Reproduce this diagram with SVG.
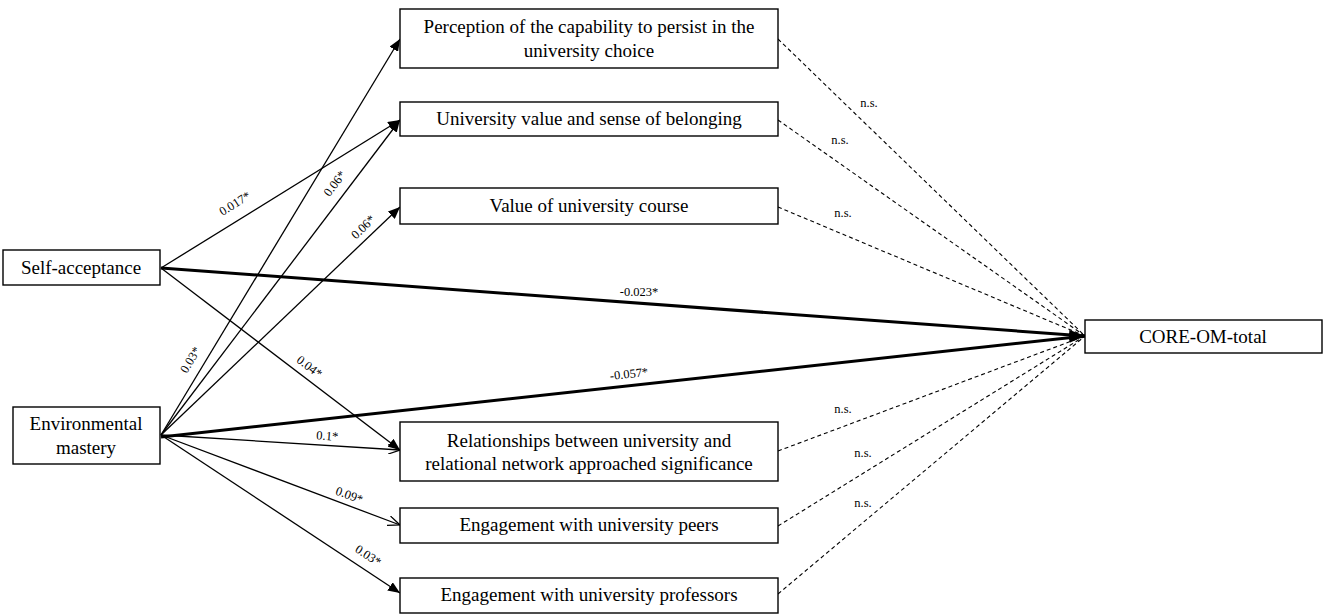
<svg xmlns="http://www.w3.org/2000/svg" width="1325" height="616" viewBox="0 0 1325 616">
<style>
.box{fill:#fff;stroke:#000;stroke-width:1.4}
.t{font-family:"Liberation Serif",serif;font-size:19px;text-anchor:middle;fill:#000}
.l{font-family:"Liberation Serif",serif;font-size:12.5px;text-anchor:middle;fill:#000}
.e{stroke:#000;stroke-width:1.3;fill:none}
.th{stroke:#000;stroke-width:3;fill:none}
.d{stroke:#000;stroke-width:1.1;stroke-dasharray:4,3;fill:none}
</style>
<defs>
<marker id="a" markerWidth="12" markerHeight="10" refX="12" refY="5" orient="auto" markerUnits="userSpaceOnUse"><path d="M0,0 L12,5 L0,10 Z"/></marker>
<marker id="o" markerWidth="12" markerHeight="10" refX="12" refY="5" orient="auto" markerUnits="userSpaceOnUse"><path d="M0,0 L12,5 L0,10" fill="none" stroke="#000" stroke-width="1.3"/></marker>
<marker id="b" markerWidth="16" markerHeight="10" refX="16" refY="5" orient="auto" markerUnits="userSpaceOnUse"><path d="M0,0 L16,5 L0,10 Z"/></marker>
</defs>
<rect width="1325" height="616" fill="#fff"/>
<g id="connectors">
<line class="e" x1="161" y1="268" x2="400" y2="120" marker-end="url(#a)"/>
<line class="e" x1="161" y1="435" x2="400" y2="39" marker-end="url(#a)"/>
<line class="e" x1="161" y1="435" x2="400" y2="120" marker-end="url(#a)"/>
<line class="e" x1="161" y1="435" x2="400" y2="207" marker-end="url(#a)"/>
<line class="e" x1="161" y1="268" x2="400" y2="450" marker-end="url(#a)"/>
<line class="e" x1="161" y1="435" x2="400" y2="450" marker-end="url(#o)"/>
<line class="e" x1="161" y1="435" x2="400" y2="525" marker-end="url(#o)"/>
<line class="e" x1="161" y1="435" x2="400" y2="593" marker-end="url(#a)"/>
<line class="th" x1="161" y1="268" x2="1085" y2="336" marker-end="url(#b)"/>
<line class="th" x1="161" y1="437" x2="1085" y2="336" marker-end="url(#b)"/>
<line class="d" x1="778" y1="39" x2="1085" y2="336"/>
<line class="d" x1="778" y1="120" x2="1085" y2="336"/>
<line class="d" x1="778" y1="207" x2="1085" y2="336"/>
<line class="d" x1="778" y1="451" x2="1085" y2="336"/>
<line class="d" x1="778" y1="526" x2="1085" y2="336"/>
<line class="d" x1="778" y1="594" x2="1085" y2="336"/>
<text class="l" transform="translate(237,207) rotate(-32)">0.017*</text>
<text class="l" transform="translate(194,362) rotate(-59)">0.03*</text>
<text class="l" transform="translate(338,186) rotate(-53)">0.06*</text>
<text class="l" transform="translate(366,230) rotate(-44)">0.06*</text>
<text class="l" transform="translate(307,370) rotate(37)">0.04*</text>
<text class="l" transform="translate(327,440) rotate(4)">0.1*</text>
<text class="l" transform="translate(348,499) rotate(20)">0.09*</text>
<text class="l" transform="translate(366,559) rotate(33)">0.03*</text>
<text class="l" x="639" y="296">-0.023*</text>
<text class="l" x="629" y="378" transform="rotate(-6 629 374)">-0.057*</text>
<text class="l" x="869" y="107">n.s.</text>
<text class="l" x="840" y="144">n.s.</text>
<text class="l" x="843" y="217">n.s.</text>
<text class="l" x="843" y="413">n.s.</text>
<text class="l" x="863" y="457">n.s.</text>
<text class="l" x="863" y="507">n.s.</text>
</g>
<g id="sa"><rect class="box" x="3" y="250" width="157" height="35"/><text class="t" x="81" y="274">Self-acceptance</text></g>
<g id="em"><rect class="box" x="13" y="407" width="147" height="57"/><text class="t" x="86" y="430">Environmental</text><text class="t" x="86" y="454">mastery</text></g>
<g id="n1"><rect class="box" x="400" y="9" width="378" height="59"/><text class="t" x="589" y="33">Perception of the capability to persist in the</text><text class="t" x="589" y="57">university choice</text></g>
<g id="n2"><rect class="box" x="400" y="102" width="378" height="34"/><text class="t" x="589" y="125">University value and sense of belonging</text></g>
<g id="n3"><rect class="box" x="400" y="188" width="378" height="36"/><text class="t" x="589" y="212">Value of university course</text></g>
<g id="n4"><rect class="box" x="400" y="422" width="378" height="59"/><text class="t" x="589" y="447">Relationships between university and</text><text class="t" x="589" y="470">relational network approached significance</text></g>
<g id="n5"><rect class="box" x="400" y="508" width="378" height="35"/><text class="t" x="589" y="531">Engagement with university peers</text></g>
<g id="n6"><rect class="box" x="400" y="578" width="378" height="35"/><text class="t" x="589" y="601">Engagement with university professors</text></g>
<g id="core"><rect class="box" x="1085" y="320" width="237" height="33"/><text class="t" x="1203" y="343">CORE-OM-total</text></g>
</svg>
